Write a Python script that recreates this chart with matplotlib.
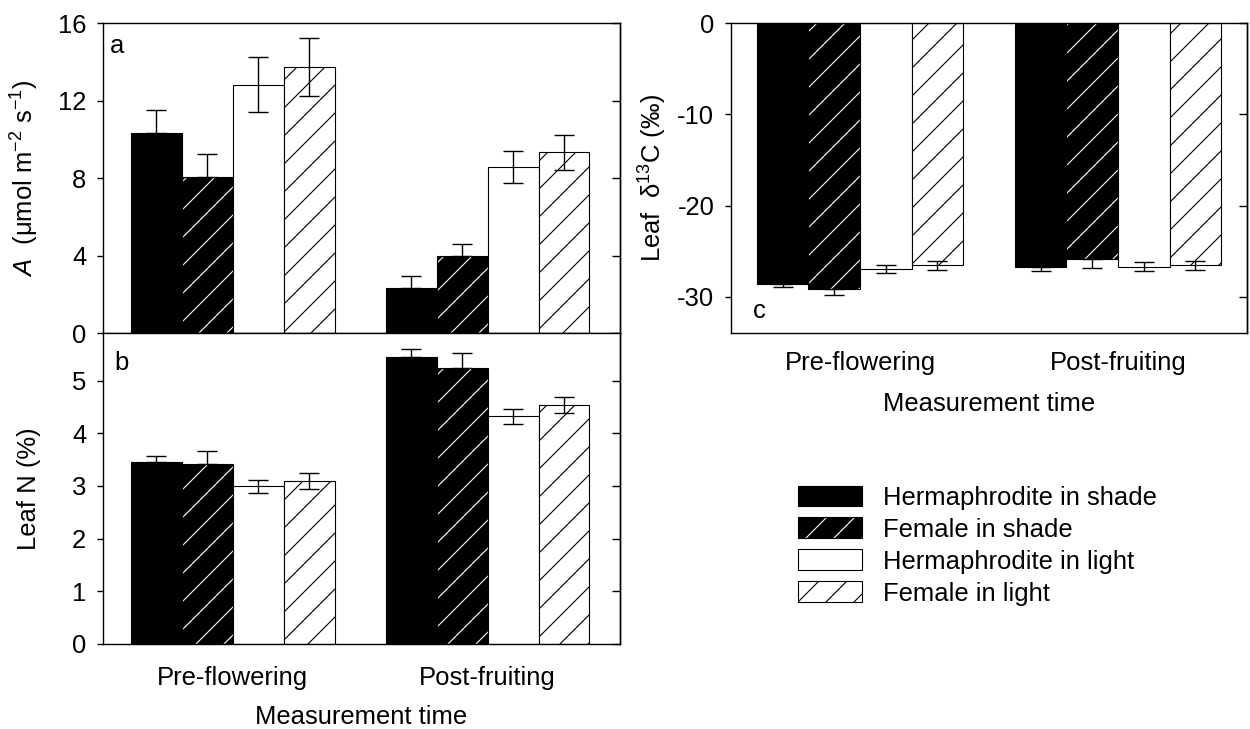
import numpy as np
import matplotlib
matplotlib.use('Agg')
import matplotlib.pyplot as plt
from matplotlib.patches import Patch
from matplotlib.legend_handler import HandlerTuple

# se guarda a 84 dpi para que el rayado tenga el paso del original;
# k pasa los tamaños pensados a 100 dpi
dpi = 84
k = 100.0 / dpi
fs = 18.5 * k

plt.rcParams['font.family'] = 'Liberation Sans'
plt.rcParams['mathtext.fontset'] = 'custom'
plt.rcParams['mathtext.rm'] = 'Liberation Sans'
plt.rcParams['mathtext.it'] = 'Liberation Sans:italic'
plt.rcParams['axes.unicode_minus'] = False
plt.rcParams['hatch.linewidth'] = 0.8 * k
plt.rcParams['font.size'] = fs

# datos
grupos = ['Pre-flowering', 'Post-fruiting']
series = ['Hermaphrodite in shade', 'Female in shade', 'Hermaphrodite in light', 'Female in light']

A_herm_sombra = [10.35, 2.32]
A_fem_sombra = [8.07, 3.97]
A_herm_luz = [12.83, 8.58]
A_fem_luz = [13.73, 9.33]
A_err_herm_sombra = [1.15, 0.62]
A_err_fem_sombra = [1.20, 0.62]
A_err_herm_luz = [1.42, 0.83]
A_err_fem_luz = [1.50, 0.90]

N_herm_sombra = [3.45, 5.44]
N_fem_sombra = [3.42, 5.23]
N_herm_luz = [2.99, 4.32]
N_fem_luz = [3.09, 4.53]
N_err_herm_sombra = [0.12, 0.16]
N_err_fem_sombra = [0.24, 0.30]
N_err_herm_luz = [0.13, 0.14]
N_err_fem_luz = [0.15, 0.15]

C_herm_sombra = [-28.63, -26.74]
C_fem_sombra = [-29.10, -25.90]
C_herm_luz = [-27.00, -26.70]
C_fem_luz = [-26.57, -26.57]
C_err_herm_sombra = [0.30, 0.43]
C_err_fem_sombra = [0.70, 1.00]
C_err_herm_luz = [0.45, 0.50]
C_err_fem_luz = [0.45, 0.50]

x = np.arange(len(grupos))
ancho = 0.2
desp = [-0.3, -0.1, 0.1, 0.3]
relleno = ['black', 'black', 'white', 'white']
rayado = ['', '/', '', '/']
color_raya = ['black', 'white', 'black', 'black']


def barras(ax, medias, errores):
    for i in range(4):
        m = np.array(medias[i])
        e = np.array(errores[i])
        pos = x + desp[i]
        if rayado[i]:
            ax.bar(pos, m, ancho, color=relleno[i], edgecolor=color_raya[i],
                   hatch=rayado[i], linewidth=0)
            ax.bar(pos, m, ancho, fill=False, edgecolor='black', linewidth=0.8 * k)
        else:
            ax.bar(pos, m, ancho, color=relleno[i], edgecolor='black', linewidth=0.8 * k)
        if relleno[i] == 'black':
            # solo la parte que sale de la barra
            arriba = np.where(m > 0, e, 0)
            abajo = np.where(m < 0, e, 0)
            yerr = [abajo, arriba]
        else:
            yerr = e
        ax.errorbar(pos, m, yerr=yerr, fmt='none', ecolor='black', elinewidth=1 * k,
                    capsize=7.5 * k, capthick=1 * k)


def ejes(ax, ticks, lim):
    ax.set_ylim(lim)
    ax.set_yticks(ticks)
    ax.tick_params(axis='y', direction='out', length=4 * k, width=1 * k, pad=8 * k, labelsize=fs)
    ax.tick_params(axis='x', length=0, labelsize=fs)
    for s in ax.spines.values():
        s.set_linewidth(1 * k)
    der = ax.secondary_yaxis('right')
    der.set_yticks(ticks)
    der.spines['right'].set_linewidth(1 * k)
    der.tick_params(axis='y', direction='in', length=6 * k, width=1 * k, labelright=False)


fig = plt.figure(figsize=(1250.0 / dpi, 729.0 / dpi), dpi=dpi)
ax_a = fig.add_axes([0.0824, 0.543, 0.4136, 0.425])
ax_b = fig.add_axes([0.0824, 0.1166, 0.4136, 0.4264])
ax_c = fig.add_axes([0.5848, 0.543, 0.4128, 0.425])

# panel a
barras(ax_a, [A_herm_sombra, A_fem_sombra, A_herm_luz, A_fem_luz],
       [A_err_herm_sombra, A_err_fem_sombra, A_err_herm_luz, A_err_fem_luz])
ejes(ax_a, [0, 4, 8, 12, 16], (0, 16))
ax_a.set_xlim(-0.51, 1.52)
ax_a.set_xticks(x)
ax_a.set_xticklabels([])
ax_a.set_ylabel(r'$\it{A}$  ($\mathrm{\mu}$mol m$^{-2}$ s$^{-1}$)', fontsize=fs)
ax_a.yaxis.set_label_coords(-0.12, 0.5)
ax_a.text(0.014, 0.903, 'a', transform=ax_a.transAxes, fontsize=fs)

# panel b
barras(ax_b, [N_herm_sombra, N_fem_sombra, N_herm_luz, N_fem_luz],
       [N_err_herm_sombra, N_err_fem_sombra, N_err_herm_luz, N_err_fem_luz])
ejes(ax_b, [0, 1, 2, 3, 4, 5], (0, 5.9))
ax_b.set_xlim(-0.51, 1.52)
ax_b.set_xticks(x)
ax_b.set_xticklabels(grupos)
ax_b.tick_params(axis='x', pad=16 * k)
ax_b.set_xlabel('Measurement time', fontsize=fs, labelpad=11 * k)
ax_b.set_ylabel('Leaf N (%)', fontsize=fs)
ax_b.yaxis.set_label_coords(-0.12, 0.5)
ax_b.text(0.021, 0.881, 'b', transform=ax_b.transAxes, fontsize=fs)

# panel c
barras(ax_c, [C_herm_sombra, C_fem_sombra, C_herm_luz, C_fem_luz],
       [C_err_herm_sombra, C_err_fem_sombra, C_err_herm_luz, C_err_fem_luz])
ejes(ax_c, [-30, -20, -10, 0], (-34, 0))
ax_c.set_xlim(-0.5, 1.5)
ax_c.set_xticks(x)
ax_c.set_xticklabels(grupos)
ax_c.tick_params(axis='x', pad=13 * k)
ax_c.set_xlabel('Measurement time', fontsize=fs, labelpad=12 * k)
ax_c.set_ylabel('Leaf  δ$^{13}$C (‰)', fontsize=fs)
ax_c.yaxis.set_label_coords(-0.12, 0.5)
ax_c.text(0.043, 0.048, 'c', transform=ax_c.transAxes, fontsize=fs)

# leyenda
manejadores = []
for i in range(4):
    if rayado[i]:
        p1 = Patch(facecolor=relleno[i], edgecolor=color_raya[i], hatch=rayado[i], linewidth=0)
        p2 = Patch(fill=False, edgecolor='black', linewidth=0.8 * k)
        manejadores.append((p1, p2))
    else:
        manejadores.append(Patch(facecolor=relleno[i], edgecolor='black', linewidth=0.8 * k))
fig.legend(manejadores, series, loc='upper left', bbox_to_anchor=(0.638, 0.334),
           frameon=False, fontsize=fs, handlelength=2.5, handleheight=0.86,
           handletextpad=0.82, labelspacing=0.3, borderpad=0, borderaxespad=0,
           handler_map={tuple: HandlerTuple(ndivide=1)})

fig.savefig('out.png', dpi=dpi)
